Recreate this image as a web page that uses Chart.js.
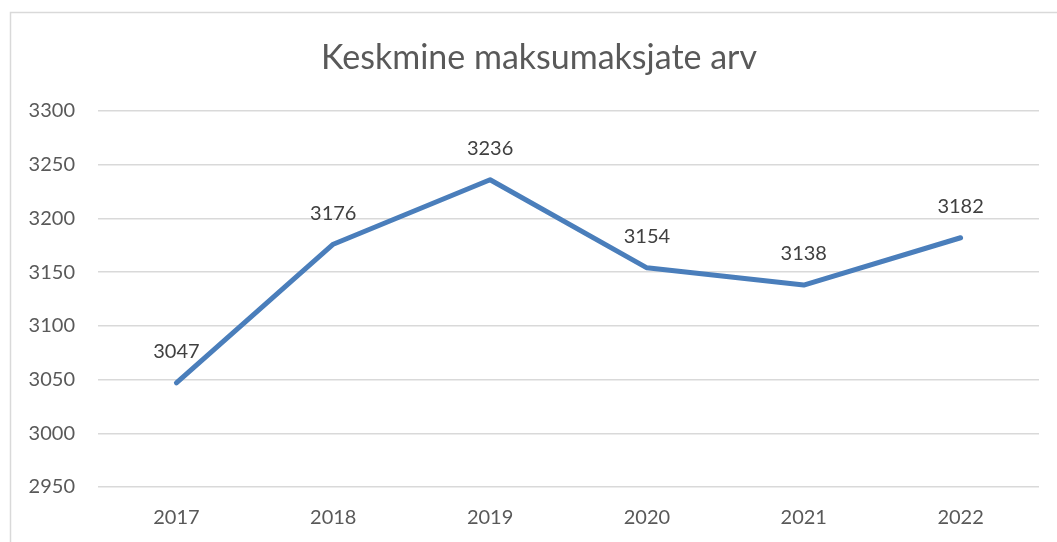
<!DOCTYPE html>
<html>
<head>
<meta charset="utf-8">
<script src="https://cdn.jsdelivr.net/npm/chart.js@4.4.1/dist/chart.umd.min.js"></script>
<style>
  html, body { margin: 0; padding: 0; background: #ffffff; }
  #wrap { position: relative; width: 1057px; height: 542px; }
  canvas { display: block; }
</style>
</head>
<body>
<div id="wrap"><canvas id="c" width="1057" height="542"></canvas></div>
<script>
const chartTitle = 'Keskmine maksumaksjate arv';
const categories = ['2017', '2018', '2019', '2020', '2021', '2022'];
const values = [3047, 3176, 3236, 3154, 3138, 3182];
const yMin = 2950;
const yMax = 3300;
const yStep = 50;

const FONT = 'Lato, "Open Sans", "Liberation Sans", sans-serif';

const frame = {
  id: 'frame',
  afterLayout(chart) {
    const t = chart.titleBlock;
    if (t) { t.left += 9.5; t.right += 9.5; }
  },
  beforeDraw(chart) {
    const ctx = chart.ctx;
    ctx.save();
    ctx.strokeStyle = '#d9d9d9';
    ctx.lineWidth = 1.5;
    ctx.beginPath();
    ctx.moveTo(1070, 12.5);
    ctx.lineTo(10.5, 12.5);
    ctx.lineTo(10.5, 560);
    ctx.stroke();
    ctx.restore();
  }
};

const dataLabels = {
  id: 'dataLabels',
  afterDatasetsDraw(chart) {
    const ctx = chart.ctx;
    const meta = chart.getDatasetMeta(0);
    ctx.save();
    ctx.font = '20px ' + FONT;
    ctx.fillStyle = '#404040';
    ctx.textAlign = 'center';
    ctx.textBaseline = 'middle';
    meta.data.forEach((pt, i) => {
      ctx.fillText(String(chart.data.datasets[0].data[i]), pt.x, pt.y - 31);
    });
    ctx.restore();
  }
};

new Chart(document.getElementById('c'), {
  type: 'line',
  data: {
    labels: categories,
    datasets: [{
      data: values,
      borderColor: '#4a7ebb',
      backgroundColor: '#4a7ebb',
      borderWidth: 5,
      pointRadius: 0,
      pointHoverRadius: 0,
      tension: 0,
      fill: false,
      borderCapStyle: 'round',
      borderJoinStyle: 'round'
    }]
  },
  options: {
    responsive: false,
    animation: false,
    devicePixelRatio: 1,
    layout: { padding: { left: 20, right: 18, top: 20, bottom: 0 } },
    plugins: {
      legend: { display: false },
      tooltip: { enabled: false },
      title: {
        display: true,
        text: chartTitle,
        color: '#595959',
        font: { family: FONT, size: 34, weight: 'normal' },
        padding: { top: 17.6, bottom: 32.6 }
      }
    },
    scales: {
      x: {
        offset: true,
        grid: { display: false, drawTicks: false },
        border: { display: false },
        ticks: {
          color: '#595959',
          font: { family: FONT, size: 20 },
          padding: 19,
          maxRotation: 0
        },
        afterFit(scale) { scale.height = 542 - 487; }
      },
      y: {
        min: yMin,
        max: yMax,
        grid: { color: '#d9d9d9', lineWidth: 1.5, drawTicks: false },
        border: { display: false },
        ticks: {
          stepSize: yStep,
          color: '#595959',
          font: { family: FONT, size: 20 },
          padding: 23,
          callback: (v) => String(v)
        },
        afterFit(scale) { scale.width = 98 - 20; }
      }
    }
  },
  plugins: [frame, dataLabels]
});
</script>
</body>
</html>
